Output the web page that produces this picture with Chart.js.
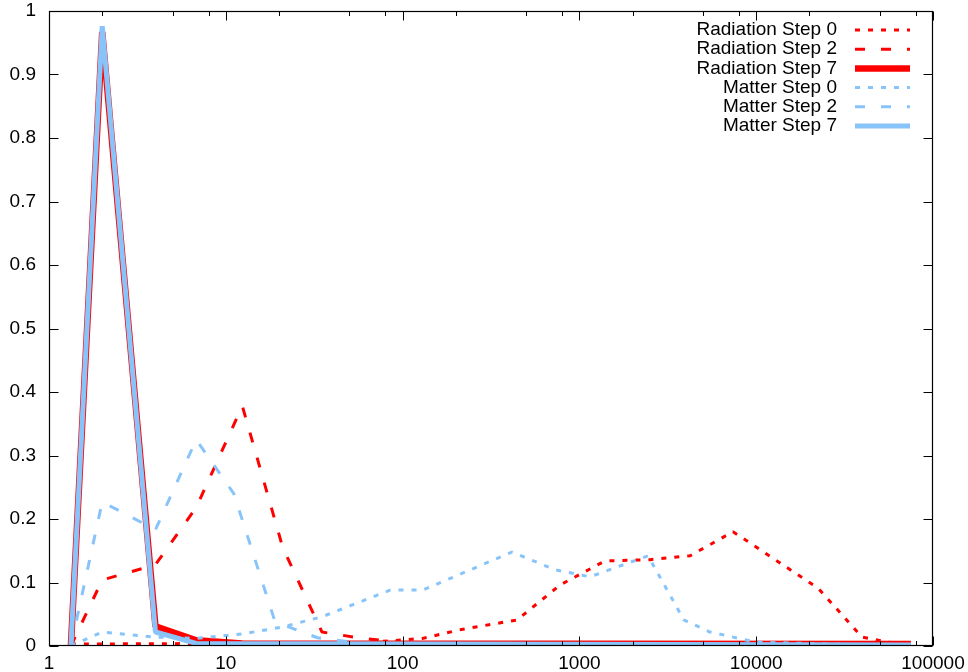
<!DOCTYPE html>
<html>
<head>
<meta charset="utf-8">
<script src="https://cdn.jsdelivr.net/npm/chart.js@4/dist/chart.umd.min.js"></script>
<style>
html,body{margin:0;padding:0;background:#fff;}
#wrap{width:968px;height:672px;position:relative;}
</style>
</head>
<body>
<div id="wrap"><canvas id="c" width="968" height="672"></canvas></div>
<script>
// ---- data ----
const seriesLabels = ["Radiation Step 0", "Radiation Step 2", "Radiation Step 7",
                      "Matter Step 0", "Matter Step 2", "Matter Step 7"];

const radStep0X = [1.33, 60, 130, 215, 444, 776, 1395, 2510, 4220, 7390, 22400, 39700, 55600, 75000];
const radStep0Y = [0.003, 0.005, 0.012, 0.026, 0.041, 0.096, 0.134, 0.136, 0.142, 0.180, 0.091, 0.014, 0.006, 0.003];

const radStep2X = [1.33, 2, 4, 6.8, 12.4, 21, 35, 56, 100, 200, 75000];
const radStep2Y = [0, 0.104, 0.128, 0.218, 0.378, 0.155, 0.022, 0.013, 0.005, 0.003, 0.002];

const radStep7X = [1.33, 2, 4, 6.8, 12.4, 75000];
const radStep7Y = [0, 0.967, 0.031, 0.009, 0.004, 0.003];

const matStep0X = [1.33, 2, 4, 6.8, 12.4, 21, 35, 85, 130, 416, 728, 1148, 2444, 3900, 5480, 10000, 75000];
const matStep0Y = [0, 0.022, 0.014, 0.012, 0.019, 0.030, 0.046, 0.088, 0.088, 0.148, 0.120, 0.109, 0.142, 0.041, 0.022, 0.006, 0];

const matStep2X = [1.33, 2, 4, 6.8, 11.1, 19, 33, 60, 75000];
const matStep2Y = [0, 0.227, 0.183, 0.325, 0.240, 0.038, 0.013, 0.004, 0.001];

const matStep7X = [1.33, 2, 4, 6.8, 75000];
const matStep7Y = [0, 0.976, 0.022, 0.004, 0.0015];

const xTickValues = [1, 10, 100, 1000, 10000, 100000];
const xTickLabels = ["1", "10", "100", "1000", "10000", "100000"];
const xMinorMultipliers = [2, 5, 8];
const yTickValues = [0, 0.1, 0.2, 0.3, 0.4, 0.5, 0.6, 0.7, 0.8, 0.9, 1];
const yTickLabels = ["0", "0.1", "0.2", "0.3", "0.4", "0.5", "0.6", "0.7", "0.8", "0.9", "1"];

// ---- styles ----
const RED = "#ff0000";
const BLUE = "#88c4fa";
const DOT = [5, 8];
const DASH = [10, 16];
const FAMILY = '"Liberation Sans", Arial, sans-serif';
const FSIZE = 19;

function pts(xs, ys) { return xs.map((x, i) => ({ x: x, y: ys[i] })); }

const datasets = [
  { label: seriesLabels[0], data: pts(radStep0X, radStep0Y), borderColor: RED,  borderWidth: 3,   borderDash: DOT,  order: 6 },
  { label: seriesLabels[1], data: pts(radStep2X, radStep2Y), borderColor: RED,  borderWidth: 3,   borderDash: DASH, order: 5 },
  { label: seriesLabels[2], data: pts(radStep7X, radStep7Y), borderColor: RED,  borderWidth: 6.5, borderDash: [],   order: 4 },
  { label: seriesLabels[3], data: pts(matStep0X, matStep0Y), borderColor: BLUE, borderWidth: 3,   borderDash: DOT,  order: 3 },
  { label: seriesLabels[4], data: pts(matStep2X, matStep2Y), borderColor: BLUE, borderWidth: 3,   borderDash: DASH, order: 2 },
  { label: seriesLabels[5], data: pts(matStep7X, matStep7Y), borderColor: BLUE, borderWidth: 5,   borderDash: [],   order: 1 }
].map(d => Object.assign(d, { pointRadius: 0, tension: 0, fill: false, borderJoinStyle: 'bevel', borderCapStyle: 'butt' }));

const framePlugin = {
  id: 'frame',
  afterDatasetsDraw(chart) {
    const { ctx, chartArea: a, scales } = chart;
    const xs = scales.x, ys = scales.y;
    ctx.save();
    ctx.strokeStyle = '#000';
    ctx.lineWidth = 1;
    ctx.beginPath();
    const L = a.left + 0.5, R = a.right - 0.5, T = a.top + 0.5, B = a.bottom - 0.5;
    yTickValues.forEach(v => {
      const py = Math.round(ys.getPixelForValue(v)) + 0.5;
      ctx.moveTo(L, py); ctx.lineTo(L + 9, py);
      ctx.moveTo(R, py); ctx.lineTo(R - 9, py);
    });
    xTickValues.forEach(v => {
      const px = Math.round(xs.getPixelForValue(v)) + 0.5;
      ctx.moveTo(px, B); ctx.lineTo(px, B - 9);
      ctx.moveTo(px, T); ctx.lineTo(px, T + 9);
      if (v < 100000) {
        xMinorMultipliers.forEach(m => {
          const qx = Math.round(xs.getPixelForValue(v * m)) + 0.5;
          ctx.moveTo(qx, B); ctx.lineTo(qx, B - 4.5);
          ctx.moveTo(qx, T); ctx.lineTo(qx, T + 4.5);
        });
      }
    });
    ctx.stroke();
    ctx.lineWidth = 1.2;
    ctx.strokeRect(L, T, R - L, B - T);
    ctx.restore();
  },
  afterDraw(chart) {
    const ctx = chart.ctx;
    ctx.save();
    ctx.font = FSIZE + 'px ' + FAMILY;
    ctx.fillStyle = '#000';
    ctx.textAlign = 'right';
    ctx.textBaseline = 'middle';
    const textRight = 837, s0 = 855, s1 = 910, row0 = 30, step = 19.2;
    chart.data.datasets.forEach((d, i) => {
      const yy = row0 + i * step;
      ctx.fillText(d.label, textRight, yy);
      ctx.beginPath();
      ctx.strokeStyle = d.borderColor;
      ctx.lineWidth = d.borderWidth;
      ctx.setLineDash(d.borderDash || []);
      ctx.lineCap = 'butt';
      ctx.moveTo(s0, yy); ctx.lineTo(s1, yy);
      ctx.stroke();
    });
    ctx.restore();
  }
};

new Chart(document.getElementById('c'), {
  type: 'line',
  data: { datasets: datasets },
  options: {
    responsive: false,
    animation: false,
    devicePixelRatio: 1,
    layout: { padding: { top: 11, right: 35, left: 0, bottom: 0 } },
    plugins: { legend: { display: false }, tooltip: { enabled: false } },
    scales: {
      x: {
        type: 'logarithmic', position: 'bottom', min: 1, max: 100000,
        grid: { display: false, drawTicks: false }, border: { display: false },
        afterBuildTicks: s => { s.ticks = xTickValues.map(v => ({ value: v })); },
        afterFit: s => { s.height = 26; s.paddingLeft = 0; s.paddingRight = 0; },
        ticks: {
          color: '#000', font: { family: FAMILY, size: FSIZE },
          padding: 6, maxRotation: 0, autoSkip: false,
          callback: (v) => { const i = xTickValues.indexOf(v); return i >= 0 ? xTickLabels[i] : ''; }
        }
      },
      y: {
        type: 'linear', position: 'left', min: 0, max: 1,
        grid: { display: false, drawTicks: false }, border: { display: false },
        afterBuildTicks: s => { s.ticks = yTickValues.map(v => ({ value: v })); },
        afterFit: s => { s.width = 49; s.paddingTop = 0; s.paddingBottom = 0; },
        ticks: {
          color: '#000', font: { family: FAMILY, size: FSIZE },
          padding: 13,
          callback: (v, i) => yTickLabels[i]
        }
      }
    }
  },
  plugins: [framePlugin]
});
</script>
</body>
</html>
